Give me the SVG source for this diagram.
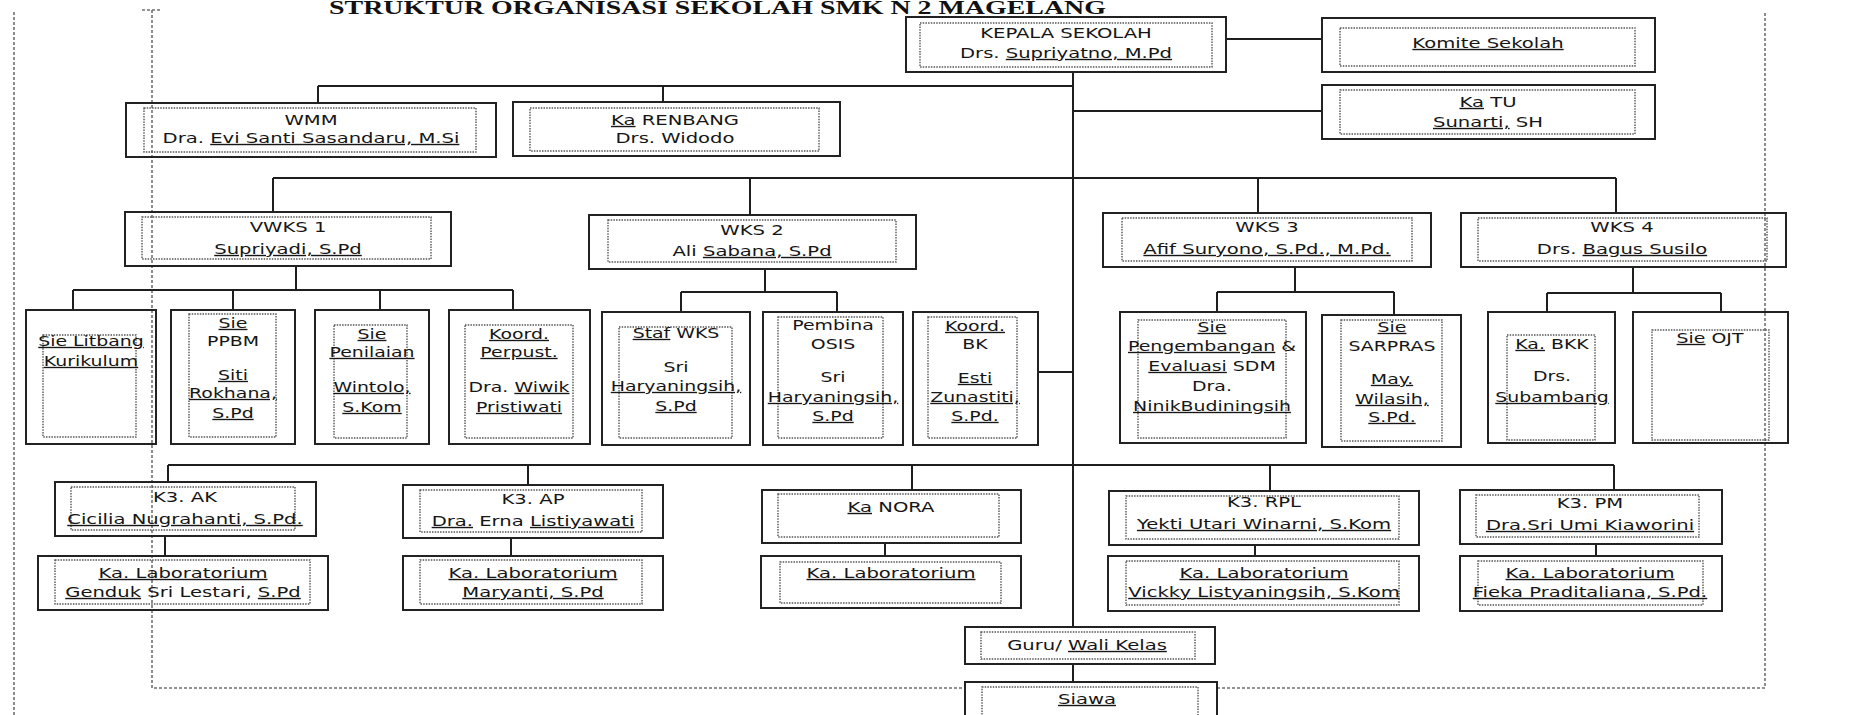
<svg xmlns="http://www.w3.org/2000/svg" width="1850" height="715" viewBox="0 0 1850 715">
<style>
.box{fill:none;stroke:#222;stroke-width:2}
.in{fill:none;stroke:#555;stroke-width:1.4;stroke-dasharray:1.5 1.2}
.ln{fill:none;stroke:#1e1e1e;stroke-width:2}
.fr{fill:none;stroke:#707070;stroke-width:1.6;stroke-dasharray:3 2}
.t{font-family:"DejaVu Sans",sans-serif;font-size:14px;fill:#161616;text-anchor:middle}
.s{font-size:13.5px}
.u{text-decoration:underline}
.title{font-family:"Liberation Serif",serif;font-weight:bold;font-size:18px;fill:#111}
</style>
<rect width="1850" height="715" fill="#fff"/>
<text class="title" x="329" y="14" textLength="777" lengthAdjust="spacingAndGlyphs">STRUKTUR ORGANISASI SEKOLAH SMK N 2 MAGELANG</text>
<g id="frame">
<path class="fr" d="M14 12V715M142 10H162M152 10V688H965M1217 688H1765V13"/>
</g>
<g id="connectors">
<path class="ln" d="M1073 72V627M1226 39H1322M1073 111H1322M318 86H1073M318 86V103M663 86V102M273 178H1616M273 178V212M750 178V215M1258 178V213M1616 178V213M296 266V290M73 290H513M73 290V310M233 290V310M380 290V310M513 290V310M765 269V292M681 292H837M681 292V312M837 292V312M1038 372H1073M1295 267V292M1217 292H1394M1217 292V312M1394 292V315M1633 267V293M1547 293H1721M1547 293V312M1721 293V312M168 465H1614M168 465V482M528 465V485M912 465V490M1270 465V491M1614 465V490M165 536V556M511 538V556M885 543V556M1255 545V556M1596 544V556M1073 664V682"/>
</g>
<g id="kepala-sekolah"><rect class="box" x="906" y="17" width="320" height="55"/><rect class="in" x="920" y="23" width="292" height="44"/>
<text class="t" transform="translate(1066 0) scale(1.4 1)"><tspan x="0" y="38">KEPALA SEKOLAH</tspan><tspan x="0" y="58">Drs. <tspan class="u">Supriyatno, M.Pd</tspan></tspan></text></g>
<g id="komite-sekolah"><rect class="box" x="1322" y="18" width="333" height="54"/><rect class="in" x="1340" y="28" width="295" height="38"/>
<text class="t" transform="translate(1488 0) scale(1.4 1)"><tspan x="0" y="48" class="u">Komite Sekolah</tspan></text></g>
<g id="ka-tu"><rect class="box" x="1322" y="85" width="333" height="54"/><rect class="in" x="1340" y="90" width="295" height="44"/>
<text class="t" transform="translate(1488 0) scale(1.4 1)"><tspan x="0" y="107"><tspan class="u">Ka</tspan> TU</tspan><tspan x="0" y="127"><tspan class="u">Sunarti,</tspan> SH</tspan></text></g>
<g id="wmm"><rect class="box" x="126" y="103" width="370" height="54"/><rect class="in" x="144" y="108" width="332" height="44"/>
<text class="t" transform="translate(311 0) scale(1.4 1)"><tspan x="0" y="125">WMM</tspan><tspan x="0" y="143">Dra. <tspan class="u">Evi Santi Sasandaru, M.Si</tspan></tspan></text></g>
<g id="ka-renbang"><rect class="box" x="513" y="102" width="327" height="54"/><rect class="in" x="530" y="108" width="289" height="43"/>
<text class="t" transform="translate(675 0) scale(1.4 1)"><tspan x="0" y="125"><tspan class="u">Ka</tspan> RENBANG</tspan><tspan x="0" y="143">Drs. Widodo</tspan></text></g>
<g id="vwks1"><rect class="box" x="125" y="212" width="326" height="54"/><rect class="in" x="142" y="217" width="289" height="42"/>
<text class="t" transform="translate(288 0) scale(1.4 1)"><tspan x="0" y="232">VWKS 1</tspan><tspan x="0" y="254" class="u">Supriyadi, S.Pd</tspan></text></g>
<g id="wks2"><rect class="box" x="589" y="215" width="327" height="54"/><rect class="in" x="608" y="220" width="288" height="42"/>
<text class="t" transform="translate(752 0) scale(1.4 1)"><tspan x="0" y="235">WKS 2</tspan><tspan x="0" y="256">Ali <tspan class="u">Sabana, S.Pd</tspan></tspan></text></g>
<g id="wks3"><rect class="box" x="1103" y="213" width="328" height="54"/><rect class="in" x="1122" y="218" width="290" height="43"/>
<text class="t" transform="translate(1267 0) scale(1.4 1)"><tspan x="0" y="232">WKS 3</tspan><tspan x="0" y="254" class="u">Afif Suryono, S.Pd., M.Pd.</tspan></text></g>
<g id="wks4"><rect class="box" x="1461" y="213" width="325" height="54"/><rect class="in" x="1478" y="218" width="289" height="43"/>
<text class="t" transform="translate(1622 0) scale(1.4 1)"><tspan x="0" y="232">WKS 4</tspan><tspan x="0" y="254">Drs. <tspan class="u">Bagus Susilo</tspan></tspan></text></g>
<g id="sie-litbang"><rect class="box" x="26" y="310" width="130" height="134"/><rect class="in" x="43" y="335" width="93" height="102"/>
<text class="t s" transform="translate(91 0) scale(1.4 1)"><tspan x="0" y="346" class="u">Sie Litbang</tspan><tspan x="0" y="366" class="u">Kurikulum</tspan></text></g>
<g id="sie-ppbm"><rect class="box" x="171" y="310" width="124" height="134"/><rect class="in" x="189" y="314" width="87" height="123"/>
<text class="t s" transform="translate(233 0) scale(1.4 1)"><tspan x="0" y="328" class="u">Sie</tspan><tspan x="0" y="346">PPBM</tspan><tspan x="0" y="380" class="u">Siti</tspan><tspan x="0" y="398" class="u">Rokhana,</tspan><tspan x="0" y="418" class="u">S.Pd</tspan></text></g>
<g id="sie-penilaian"><rect class="box" x="315" y="310" width="114" height="134"/><rect class="in" x="334" y="325" width="73" height="113"/>
<text class="t s" transform="translate(372 0) scale(1.4 1)"><tspan x="0" y="339" class="u">Sie</tspan><tspan x="0" y="357" class="u">Penilaian</tspan><tspan x="0" y="392" class="u">Wintolo,</tspan><tspan x="0" y="412" class="u">S.Kom</tspan></text></g>
<g id="koord-perpust"><rect class="box" x="449" y="310" width="141" height="134"/><rect class="in" x="465" y="325" width="108" height="113"/>
<text class="t s" transform="translate(519 0) scale(1.4 1)"><tspan x="0" y="339" class="u">Koord.</tspan><tspan x="0" y="357" class="u">Perpust.</tspan><tspan x="0" y="392">Dra. <tspan class="u">Wiwik</tspan></tspan><tspan x="0" y="412" class="u">Pristiwati</tspan></text></g>
<g id="staf-wks"><rect class="box" x="602" y="312" width="148" height="133"/><rect class="in" x="619" y="327" width="113" height="111"/>
<text class="t s" transform="translate(676 0) scale(1.4 1)"><tspan x="0" y="338"><tspan class="u">Staf</tspan> WKS</tspan><tspan x="0" y="372">Sri</tspan><tspan x="0" y="391" class="u">Haryaningsih,</tspan><tspan x="0" y="411" class="u">S.Pd</tspan></text></g>
<g id="pembina-osis"><rect class="box" x="763" y="312" width="140" height="133"/><rect class="in" x="778" y="317" width="105" height="121"/>
<text class="t s" transform="translate(833 0) scale(1.4 1)"><tspan x="0" y="330">Pembina</tspan><tspan x="0" y="349">OSIS</tspan><tspan x="0" y="382">Sri</tspan><tspan x="0" y="402" class="u">Haryaningsih,</tspan><tspan x="0" y="421" class="u">S.Pd</tspan></text></g>
<g id="koord-bk"><rect class="box" x="913" y="312" width="125" height="133"/><rect class="in" x="928" y="317" width="89" height="121"/>
<text class="t s" transform="translate(975 0) scale(1.4 1)"><tspan x="0" y="331" class="u">Koord.</tspan><tspan x="0" y="349">BK</tspan><tspan x="0" y="383" class="u">Esti</tspan><tspan x="0" y="402" class="u">Zunastiti,</tspan><tspan x="0" y="421" class="u">S.Pd.</tspan></text></g>
<g id="sie-pengembangan"><rect class="box" x="1120" y="312" width="186" height="131"/><rect class="in" x="1138" y="320" width="148" height="118"/>
<text class="t s" transform="translate(1212 0) scale(1.4 1)"><tspan x="0" y="332" class="u">Sie</tspan><tspan x="0" y="351"><tspan class="u">Pengembangan</tspan> &amp;</tspan><tspan x="0" y="371"><tspan class="u">Evaluasi</tspan> SDM</tspan><tspan x="0" y="391">Dra.</tspan><tspan x="0" y="411" class="u">NinikBudiningsih</tspan></text></g>
<g id="sie-sarpras"><rect class="box" x="1322" y="315" width="139" height="132"/><rect class="in" x="1341" y="320" width="101" height="121"/>
<text class="t s" transform="translate(1392 0) scale(1.4 1)"><tspan x="0" y="332" class="u">Sie</tspan><tspan x="0" y="351">SARPRAS</tspan><tspan x="0" y="384" class="u">May.</tspan><tspan x="0" y="404" class="u">Wilasih,</tspan><tspan x="0" y="422" class="u">S.Pd.</tspan></text></g>
<g id="ka-bkk"><rect class="box" x="1488" y="312" width="127" height="131"/><rect class="in" x="1507" y="335" width="88" height="105"/>
<text class="t s" transform="translate(1552 0) scale(1.4 1)"><tspan x="0" y="349"><tspan class="u">Ka.</tspan> BKK</tspan><tspan x="0" y="381">Drs.</tspan><tspan x="0" y="402" class="u">Subambang</tspan></text></g>
<g id="sie-ojt"><rect class="box" x="1633" y="312" width="155" height="131"/><rect class="in" x="1652" y="330" width="117" height="110"/>
<text class="t s" transform="translate(1710 0) scale(1.4 1)"><tspan x="0" y="343"><tspan class="u">Sie</tspan> OJT</tspan></text></g>
<g id="k3-ak"><rect class="box" x="55" y="482" width="261" height="54"/><rect class="in" x="71" y="487" width="224" height="43"/>
<text class="t" transform="translate(185 0) scale(1.4 1)"><tspan x="0" y="502">K3. AK</tspan><tspan x="0" y="524" class="u">Cicilia Nugrahanti, S.Pd.</tspan></text></g>
<g id="k3-ap"><rect class="box" x="403" y="485" width="260" height="53"/><rect class="in" x="420" y="490" width="222" height="42"/>
<text class="t" transform="translate(533 0) scale(1.4 1)"><tspan x="0" y="504">K3. AP</tspan><tspan x="0" y="526"><tspan class="u">Dra.</tspan> Erna <tspan class="u">Listiyawati</tspan></tspan></text></g>
<g id="ka-nora"><rect class="box" x="762" y="490" width="259" height="53"/><rect class="in" x="778" y="494" width="221" height="43"/>
<text class="t" transform="translate(891 0) scale(1.4 1)"><tspan x="0" y="512"><tspan class="u">Ka</tspan> NORA</tspan></text></g>
<g id="k3-rpl"><rect class="box" x="1109" y="491" width="310" height="54"/><rect class="in" x="1126" y="496" width="273" height="43"/>
<text class="t" transform="translate(1264 0) scale(1.4 1)"><tspan x="0" y="507">K3. RPL</tspan><tspan x="0" y="529" class="u">Yekti Utari Winarni, S.Kom</tspan></text></g>
<g id="k3-pm"><rect class="box" x="1460" y="490" width="262" height="54"/><rect class="in" x="1476" y="495" width="223" height="42"/>
<text class="t" transform="translate(1590 0) scale(1.4 1)"><tspan x="0" y="508">K3. PM</tspan><tspan x="0" y="530" class="u">Dra.Sri Umi Kiaworini</tspan></text></g>
<g id="lab-ak"><rect class="box" x="38" y="556" width="290" height="54"/><rect class="in" x="55" y="560" width="255" height="44"/>
<text class="t" transform="translate(183 0) scale(1.4 1)"><tspan x="0" y="578" class="u">Ka. Laboratorium</tspan><tspan x="0" y="597"><tspan class="u">Genduk</tspan> Sri Lestari, <tspan class="u">S.Pd</tspan></tspan></text></g>
<g id="lab-ap"><rect class="box" x="403" y="556" width="260" height="54"/><rect class="in" x="420" y="560" width="222" height="44"/>
<text class="t" transform="translate(533 0) scale(1.4 1)"><tspan x="0" y="578" class="u">Ka. Laboratorium</tspan><tspan x="0" y="597" class="u">Maryanti, S.Pd</tspan></text></g>
<g id="lab-nora"><rect class="box" x="761" y="556" width="260" height="52"/><rect class="in" x="780" y="562" width="221" height="41"/>
<text class="t" transform="translate(891 0) scale(1.4 1)"><tspan x="0" y="578" class="u">Ka. Laboratorium</tspan></text></g>
<g id="lab-rpl"><rect class="box" x="1108" y="556" width="311" height="55"/><rect class="in" x="1126" y="561" width="273" height="44"/>
<text class="t" transform="translate(1264 0) scale(1.4 1)"><tspan x="0" y="578" class="u">Ka. Laboratorium</tspan><tspan x="0" y="597" class="u">Vickky Listyaningsih, S.Kom</tspan></text></g>
<g id="lab-pm"><rect class="box" x="1460" y="556" width="262" height="55"/><rect class="in" x="1478" y="561" width="225" height="44"/>
<text class="t" transform="translate(1590 0) scale(1.4 1)"><tspan x="0" y="578" class="u">Ka. Laboratorium</tspan><tspan x="0" y="597" class="u">Fieka Praditaliana, S.Pd.</tspan></text></g>
<g id="guru-wali-kelas"><rect class="box" x="965" y="627" width="250" height="37"/><rect class="in" x="981" y="632" width="214" height="27"/>
<text class="t" transform="translate(1087 0) scale(1.4 1)"><tspan x="0" y="650">Guru/ <tspan class="u">Wali Kelas</tspan></tspan></text></g>
<g id="siswa"><rect class="box" x="965" y="682" width="252" height="40"/><rect class="in" x="982" y="687" width="216" height="30"/>
<text class="t" transform="translate(1087 0) scale(1.4 1)"><tspan x="0" y="704" class="u">Siawa</tspan></text></g>
</svg>
